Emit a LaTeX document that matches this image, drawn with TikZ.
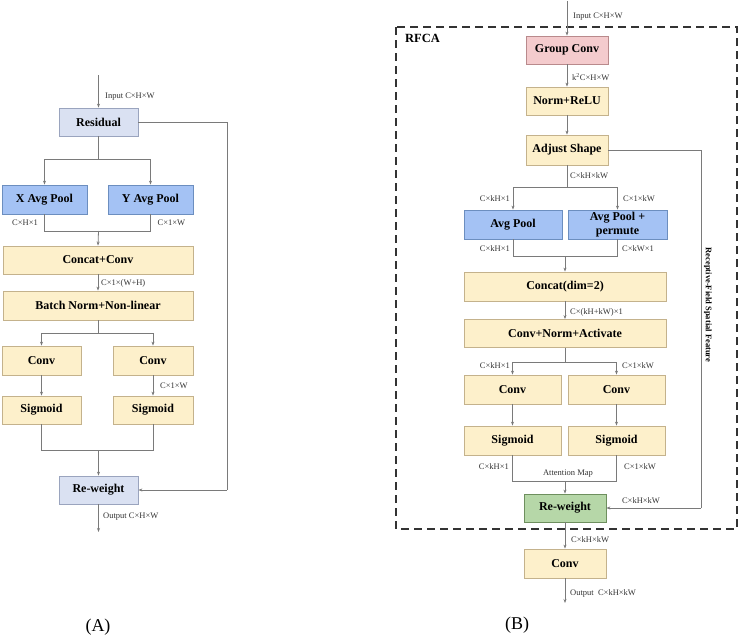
\documentclass[tikz,border=0pt]{standalone}
\usepackage{fontspec}
\setmainfont{Liberation Serif}
\usetikzlibrary{arrows.meta}
\definecolor{yfill}{HTML}{FDF0CB}
\definecolor{ydraw}{HTML}{C4B28C}
\definecolor{bfill}{HTML}{A4C2F4}
\definecolor{bdraw}{HTML}{6C8EBF}
\definecolor{gfill}{HTML}{DAE1F2}
\definecolor{gdraw}{HTML}{9AA4BE}
\definecolor{pfill}{HTML}{F4CBCD}
\definecolor{pdraw}{HTML}{B98A8C}
\definecolor{grfill}{HTML}{B6D7A8}
\definecolor{grdraw}{HTML}{6E8F5E}
\definecolor{ln}{HTML}{7A7A7A}
\tikzset{
  box/.style={draw, line width=0.8pt, inner sep=0pt, align=center,
    font=\fontsize{12}{13}\selectfont\bfseries},
  ybox/.style={box, fill=yfill, draw=ydraw},
  bbox/.style={box, fill=bfill, draw=bdraw},
  gbox/.style={box, fill=gfill, draw=gdraw},
  pbox/.style={box, fill=pfill, draw=pdraw},
  grbox/.style={box, fill=grfill, draw=grdraw},
  ln/.style={draw=ln, line width=0.8pt},
  arr/.style={ln, -{Stealth[length=4pt,width=3pt]}},
  lbl/.style={inner sep=0pt, font=\fontsize{8.5}{10}\selectfont, text=black!80},
}
\begin{document}
\begin{tikzpicture}[x=1pt,y=-1pt]
\useasboundingbox (0,0) rectangle (740,637);
% ---------------- Panel A ----------------
\node[gbox, minimum width=79, minimum height=28] (resA) at (98.5,122) {Residual};
\node[bbox, minimum width=85, minimum height=29] (xpool) at (44.5,199.5) {X Avg Pool};
\node[bbox, minimum width=85, minimum height=29] (ypool) at (150.5,199.5) {Y Avg Pool};
\node[ybox, minimum width=190, minimum height=28] (concatA) at (98,260) {Concat+Conv};
\node[ybox, minimum width=190, minimum height=29] (bnA) at (98,305.5) {Batch Norm+Non-linear};
\node[ybox, minimum width=79, minimum height=29] (convA1) at (41.5,360.5) {Conv};
\node[ybox, minimum width=80, minimum height=29] (convA2) at (153,360.5) {Conv};
\node[ybox, minimum width=79, minimum height=28] (sigA1) at (41.5,410) {Sigmoid};
\node[ybox, minimum width=80, minimum height=28] (sigA2) at (153,410) {Sigmoid};
\node[gbox, minimum width=79, minimum height=28] (rwA) at (98.5,490) {Re-weight};

\coordinate (inA) at (98.5,75);
\coordinate (sA) at (98.5,159);
\coordinate (mA) at (98.5,231);
\coordinate (bA) at (98,333);
\coordinate (jA) at (98.5,450);
\coordinate (rA1) at (227,122);
\coordinate (rA2) at (227,490);
\coordinate (outA) at (98.5,532);

\draw[arr] (inA) -- (resA.north);
\draw[ln] (resA.south) -- (sA);
\draw[arr] (sA) -| (xpool.north);
\draw[arr] (sA) -| (ypool.north);
\draw[ln] (xpool.south) |- (mA);
\draw[ln] (ypool.south) |- (mA);
\draw[arr] (mA) -- (concatA.north);
\draw[arr] (concatA.south) -- (bnA.north);
\draw[ln] (bnA.south) -- (bA);
\draw[arr] (bA) -| (convA1.north);
\draw[arr] (bA) -| (convA2.north);
\draw[arr] (convA1.south) -- (sigA1.north);
\draw[arr] (convA2.south) -- (sigA2.north);
\draw[ln] (sigA1.south) |- (jA);
\draw[ln] (sigA2.south) |- (jA);
\draw[arr] (jA) -- (rwA.north);
\draw[ln] (resA.east) -- (rA1) -- (rA2);
\draw[arr] (rA2) -- (rwA.east);
\draw[arr] (rwA.south) -- (outA);

\node[lbl, anchor=west] (lA1) at (105,97) {Input C×H×W};
\node[lbl] (lA2) at (25,223) {C×H×1};
\node[lbl] (lA3) at (171.5,223) {C×1×W};
\node[lbl, anchor=west] (lA4) at (101,283) {C×1×(W+H)};
\node[lbl, anchor=west] (lA5) at (160,386) {C×1×W};
\node[lbl, anchor=west] (lA6) at (103,517) {Output C×H×W};
\node[inner sep=0pt, font=\fontsize{18}{20}\selectfont] (capA) at (98,627) {(A)};

% ---------------- Panel B ----------------
\draw[draw=black!80, line width=1.1pt, dash pattern=on 8pt off 5pt] (396,27) rectangle (737,529);
\node[inner sep=0pt, anchor=west, font=\fontsize{12.5}{14}\selectfont\bfseries] (rfca) at (405,38) {RFCA};

\node[pbox, minimum width=82, minimum height=28] (gconv) at (567,50) {Group Conv};
\node[ybox, minimum width=82, minimum height=28] (norm) at (567,101) {Norm+ReLU};
\node[ybox, minimum width=82, minimum height=30] (adj) at (567,150) {Adjust Shape};
\node[bbox, minimum width=98, minimum height=29] (apool) at (513,224.5) {Avg Pool};
\node[bbox, minimum width=99, minimum height=29, font=\fontsize{12}{13.5}\selectfont\bfseries] (apoolp) at (617.5,224.5) {Avg Pool +\\permute};
\node[ybox, minimum width=202, minimum height=29] (concatB) at (565,286.5) {Concat(dim=2)};
\node[ybox, minimum width=202, minimum height=28] (cna) at (565,333.5) {Conv+Norm+Activate};
\node[ybox, minimum width=97, minimum height=29] (convB1) at (512.5,389.5) {Conv};
\node[ybox, minimum width=97, minimum height=29] (convB2) at (616.5,389.5) {Conv};
\node[ybox, minimum width=97, minimum height=29] (sigB1) at (512.5,440.5) {Sigmoid};
\node[ybox, minimum width=97, minimum height=29] (sigB2) at (616.5,440.5) {Sigmoid};
\node[grbox, minimum width=82, minimum height=28] (rwB) at (565,508) {Re-weight};
\node[ybox, minimum width=82, minimum height=29] (convF) at (565,563.5) {Conv};

\coordinate (inB) at (567,1);
\coordinate (sB) at (567,187);
\coordinate (mB) at (565,256);
\coordinate (bB) at (565,362);
\coordinate (jB) at (565,481);
\coordinate (rB1) at (701,150);
\coordinate (rB2) at (701,508);
\coordinate (outB) at (565,603);

\draw[arr] (inB) -- (gconv.north);
\draw[arr] (gconv.south) -- (norm.north);
\draw[arr] (norm.south) -- (adj.north);
\draw[ln] (adj.south) -- (sB);
\draw[arr] (sB) -| (apool.north);
\draw[arr] (sB) -| (apoolp.north);
\draw[ln] (apool.south) |- (mB);
\draw[ln] (apoolp.south) |- (mB);
\draw[arr] (mB) -- (concatB.north);
\draw[arr] (concatB.south) -- (cna.north);
\draw[ln] (cna.south) -- (bB);
\draw[arr] (bB) -| (convB1.north);
\draw[arr] (bB) -| (convB2.north);
\draw[arr] (convB1.south) -- (sigB1.north);
\draw[arr] (convB2.south) -- (sigB2.north);
\draw[ln] (sigB1.south) |- (jB);
\draw[ln] (sigB2.south) |- (jB);
\draw[arr] (jB) -- (rwB.north);
\draw[ln] (adj.east) -- (rB1) -- (rB2);
\draw[arr] (rB2) -- (rwB.east);
\draw[arr] (rwB.south) -- (convF.north);
\draw[arr] (convF.south) -- (outB);

\node[lbl, anchor=west] (lB1) at (573,17) {Input C×H×W};
\node[lbl, anchor=west] (lB2) at (572,77) {k\textsuperscript{2}C×H×W};
\node[lbl, anchor=west] (lB3) at (570,176) {C×kH×kW};
\node[lbl, anchor=east] (lB4) at (510,199) {C×kH×1};
\node[lbl, anchor=west] (lB5) at (623,199) {C×1×kW};
\node[lbl, anchor=east] (lB6) at (510,249) {C×kH×1};
\node[lbl, anchor=west] (lB7) at (622,249) {C×kW×1};
\node[lbl, anchor=west] (lB8) at (570,312) {C×(kH+kW)×1};
\node[lbl, anchor=east] (lB9) at (510,366) {C×kH×1};
\node[lbl, anchor=west] (lB10) at (622,366) {C×1×kW};
\node[lbl, anchor=east] (lB11) at (509,467) {C×kH×1};
\node[lbl, anchor=west] (lB12) at (624,467) {C×1×kW};
\node[lbl] (lB13) at (568,474) {Attention Map};
\node[lbl] (lB14) at (641,501) {C×kH×kW};
\node[lbl, anchor=west] (lB15) at (571,540) {C×kH×kW};
\node[lbl, anchor=west] (lB16) at (570,593) {Output\ \ C×kH×kW};
\node[inner sep=0pt, rotate=-90, font=\fontsize{8.5}{10}\selectfont\bfseries] (rfsf) at (708,305) {Receptive-Field Spatial Feature};
\node[inner sep=0pt, font=\fontsize{18}{20}\selectfont] (capB) at (517,625) {(B)};
\end{tikzpicture}
\end{document}
